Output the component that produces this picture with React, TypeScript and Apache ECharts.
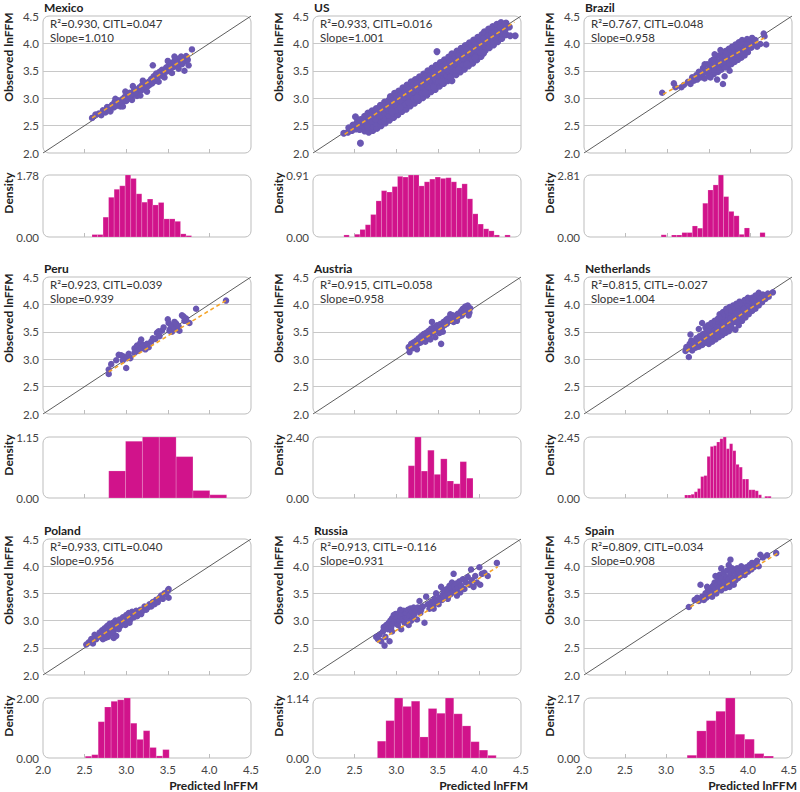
import React, { useEffect, useRef } from "react";
import * as echarts from "echarts";

// ---------- data ----------
const countries = ["Mexico", "US", "Brazil", "Peru", "Austria", "Netherlands", "Poland", "Russia", "Spain"];
const r2 = ["0.930", "0.933", "0.767", "0.923", "0.915", "0.815", "0.933", "0.913", "0.809"];
const citl = ["0.047", "0.016", "0.048", "0.039", "0.058", "-0.027", "0.040", "-0.116", "0.034"];
const slopes = ["1.010", "1.001", "0.958", "0.939", "0.958", "1.004", "0.956", "0.931", "0.908"];
const axisTicks = [2.0, 2.5, 3.0, 3.5, 4.0, 4.5];
const histMax = [1.78, 0.91, 2.81, 1.15, 2.4, 2.45, 2.0, 1.14, 2.17];
const histStart = [2.589, 2.371, 2.927, 2.79, 3.145, 3.21, 2.508, 2.774, 3.258];
const histWidth = [0.0665, 0.0645, 0.0625, 0.2025, 0.0778, 0.0385, 0.0776, 0.102, 0.117];
const dotSize = [6.5, 7, 6.5, 6.5, 6.5, 6.5, 6.5, 6.5, 6.5];

const mexicoHist = [0.07, 0.07, 0.57, 1.14, 1.37, 1.47, 1.78, 1.68, 1.24, 1.0, 1.09, 0.92, 0.99, 0.52, 0.52, 0.45, 0.09, 0.04];
const usHist = [0.03, 0, 0.04, 0.11, 0.18, 0.33, 0.53, 0.68, 0.66, 0.74, 0.89, 0.88, 0.91, 0.91, 0.75, 0.81, 0.85, 0.88, 0.86, 0.87, 0.81, 0.72, 0.78, 0.56, 0.34, 0.19, 0.12, 0.09, 0.03, 0, 0.03];
const brazilHist = [0.1, 0, 0.09, 0.09, 0.2, 0.2, 0.5, 0.4, 1.53, 2.13, 2.36, 2.81, 1.83, 1.16, 0.96, 0.12, 0.41, 0, 0, 0.2];
const peruHist = [0.51, 1.07, 1.15, 1.15, 0.78, 0.14, 0.06];
const austriaHist = [1.27, 2.4, 1.06, 1.88, 0.93, 1.54, 0.67, 0.56, 1.43, 0.78];
const netherlandsHist = [0.12, 0.12, 0.15, 0.25, 0.38, 0.86, 0.9, 1.67, 2.07, 2.1, 2.25, 2.38, 2.45, 1.98, 2.18, 1.9, 1.35, 1.24, 0.76, 0.76, 0.33, 0.33, 0.29, 0.13, 0, 0.07, 0.07];
const polandHist = [0.06, 0.11, 1.21, 1.7, 1.89, 1.94, 2.0, 1.16, 0.62, 0.91, 0.35, 0.07, 0.28];
const russiaHist = [0.32, 0.71, 1.14, 0.98, 1.08, 0.4, 0.94, 0.85, 1.14, 0.84, 0.61, 0.31, 0.15, 0.05];
const spainHist = [0.1, 0.98, 1.35, 1.69, 2.17, 0.86, 0.68, 0.16, 0.07];

const mexicoFit = [[2.59, 2.64], [3.8, 3.82]];
const usFit = [[2.38, 2.34], [4.42, 4.39]];
const brazilFit = [[2.95, 3.07], [4.19, 4.12]];
const peruFit = [[2.79, 2.77], [4.22, 4.09]];
const austriaFit = [[3.15, 3.2], [3.93, 3.93]];
const netherlandsFit = [[3.23, 3.15], [4.25, 4.18]];
const polandFit = [[2.52, 2.54], [3.51, 3.56]];
const russiaFit = [[2.77, 2.6], [4.22, 3.99]];
const spainFit = [[3.28, 3.25], [4.33, 4.24]];

const mexicoPoints = [[2.59,2.64],[2.63,2.7],[2.67,2.72],[2.7,2.69],[2.72,2.78],[2.75,2.74],[2.77,2.84],[2.79,2.8],[2.81,2.76],[2.83,2.88],[2.85,2.83],[2.86,2.93],[2.88,2.86],[2.9,2.96],[2.91,2.9],[2.93,2.85],[2.95,2.98],[2.96,2.93],[2.98,3.02],[3.0,2.95],[3.01,3.06],[3.03,2.99],[3.04,3.1],[3.06,3.03],[3.07,2.97],[3.09,3.13],[3.1,3.07],[3.12,3.16],[3.13,3.04],[3.15,3.1],[3.16,3.2],[3.18,3.14],[3.19,3.24],[3.21,3.17],[3.22,3.28],[3.24,3.2],[3.25,3.12],[3.27,3.3],[3.28,3.24],[3.3,3.35],[3.31,3.27],[3.33,3.4],[3.34,3.31],[3.36,3.45],[3.37,3.36],[3.39,3.3],[3.4,3.48],[3.42,3.41],[3.43,3.52],[3.45,3.44],[3.46,3.38],[3.48,3.56],[3.49,3.49],[3.51,3.6],[3.52,3.52],[3.54,3.64],[3.55,3.46],[3.57,3.57],[3.58,3.68],[3.6,3.61],[3.61,3.72],[3.63,3.54],[3.64,3.66],[3.66,3.76],[3.67,3.62],[3.69,3.72],[3.7,3.5],[3.71,3.67],[3.72,3.77],[3.74,3.7],[3.75,3.6],[3.32,3.6],[3.79,3.89],[3.2,3.32],[2.99,3.12],[2.87,2.99],[3.08,3.22],[3.5,3.68],[3.58,3.76],[2.96,2.85],[3.17,3.05],[3.11,3.1],[3.26,3.22],[3.35,3.36],[3.44,3.46],[3.53,3.56],[3.62,3.64],[3.68,3.66],[3.73,3.74],[2.8,2.84],[2.92,2.94],[3.05,3.05]];

const usPoints = [[2.37,2.36],[2.42,2.38],[2.43,2.46],[2.47,2.41],[2.48,2.51],[2.52,2.44],[2.53,2.56],[2.51,2.66],[2.57,2.18],[2.56,2.43],[2.58,2.51],[2.57,2.61],[2.62,2.4],[2.61,2.48],[2.63,2.57],[2.62,2.67],[2.67,2.38],[2.66,2.47],[2.68,2.55],[2.67,2.64],[2.66,2.73],[2.72,2.41],[2.71,2.5],[2.73,2.59],[2.72,2.68],[2.71,2.77],[2.77,2.45],[2.76,2.54],[2.78,2.63],[2.77,2.71],[2.76,2.81],[2.82,2.5],[2.81,2.59],[2.83,2.67],[2.82,2.76],[2.81,2.87],[2.87,2.55],[2.86,2.64],[2.88,2.72],[2.87,2.82],[2.86,2.93],[2.92,2.6],[2.91,2.69],[2.93,2.77],[2.92,2.86],[2.91,2.96],[2.93,3.03],[2.97,2.65],[2.96,2.73],[2.98,2.82],[2.97,2.91],[2.96,3.0],[2.98,3.09],[3.02,2.7],[3.01,2.79],[3.03,2.88],[3.02,2.96],[3.01,3.05],[3.03,3.13],[3.07,2.76],[3.06,2.84],[3.08,2.93],[3.07,3.01],[3.06,3.1],[3.08,3.19],[3.12,2.8],[3.11,2.89],[3.13,2.98],[3.12,3.06],[3.11,3.15],[3.13,3.24],[3.17,2.86],[3.16,2.94],[3.18,3.03],[3.17,3.11],[3.16,3.2],[3.18,3.3],[3.22,2.91],[3.21,2.99],[3.23,3.08],[3.22,3.16],[3.21,3.25],[3.23,3.34],[3.27,2.96],[3.26,3.05],[3.28,3.13],[3.27,3.22],[3.26,3.3],[3.28,3.39],[3.32,3.01],[3.31,3.1],[3.33,3.18],[3.32,3.27],[3.31,3.36],[3.33,3.44],[3.37,3.06],[3.36,3.15],[3.38,3.23],[3.37,3.32],[3.36,3.41],[3.38,3.5],[3.42,3.12],[3.41,3.2],[3.43,3.29],[3.42,3.37],[3.41,3.46],[3.43,3.55],[3.47,3.16],[3.46,3.25],[3.48,3.34],[3.47,3.42],[3.46,3.51],[3.48,3.6],[3.49,3.85],[3.52,3.22],[3.51,3.3],[3.53,3.39],[3.52,3.47],[3.51,3.56],[3.53,3.65],[3.57,3.27],[3.56,3.35],[3.58,3.44],[3.57,3.52],[3.56,3.61],[3.58,3.7],[3.62,3.32],[3.61,3.41],[3.63,3.49],[3.62,3.58],[3.61,3.66],[3.63,3.75],[3.67,3.32],[3.66,3.4],[3.68,3.47],[3.67,3.55],[3.66,3.63],[3.68,3.72],[3.67,3.81],[3.72,3.43],[3.71,3.51],[3.73,3.6],[3.72,3.68],[3.71,3.77],[3.73,3.86],[3.77,3.48],[3.76,3.56],[3.78,3.65],[3.77,3.73],[3.76,3.82],[3.78,3.91],[3.82,3.53],[3.81,3.61],[3.83,3.7],[3.82,3.78],[3.81,3.87],[3.83,3.96],[3.87,3.59],[3.86,3.67],[3.88,3.75],[3.87,3.84],[3.86,3.93],[3.88,4.01],[3.92,3.64],[3.91,3.72],[3.93,3.8],[3.92,3.89],[3.91,3.98],[3.93,4.06],[3.97,3.7],[3.96,3.78],[3.98,3.86],[3.97,3.94],[3.96,4.03],[3.98,4.11],[4.02,3.76],[4.01,3.84],[4.03,3.92],[4.02,4.0],[4.01,4.08],[4.03,4.16],[4.07,3.87],[4.06,3.95],[4.08,4.05],[4.07,4.13],[4.06,4.21],[4.12,3.92],[4.11,4.0],[4.13,4.1],[4.12,4.18],[4.11,4.26],[4.17,3.97],[4.16,4.05],[4.18,4.15],[4.17,4.23],[4.16,4.31],[4.22,4.03],[4.21,4.12],[4.23,4.2],[4.22,4.28],[4.21,4.35],[4.27,4.09],[4.26,4.19],[4.28,4.26],[4.27,4.33],[4.26,4.38],[4.32,4.16],[4.31,4.25],[4.33,4.31],[4.32,4.37],[4.37,4.14],[4.36,4.3],[4.43,4.14],
[2.45,2.43],[2.5,2.5],[2.55,2.52],[2.6,2.56],[2.65,2.51],[2.7,2.58],[2.75,2.62],[2.8,2.68],[2.85,2.74],[2.9,2.79],[2.95,2.84],[3.0,2.9],[3.05,2.96],[3.1,3.02],[3.15,3.06],[3.2,3.12],[3.25,3.17],[3.3,3.22],[3.35,3.28],[3.4,3.33],[3.45,3.38],[3.5,3.43],[3.55,3.48],[3.6,3.53],[3.65,3.59],[3.7,3.64],[3.75,3.69],[3.8,3.74],[3.85,3.8],[3.9,3.85],[3.95,3.9],[4.0,3.96],[4.05,4.01],[4.1,4.06],[4.15,4.11],[4.2,4.16],[4.25,4.22],[4.3,4.28],
[2.7,2.68],[2.8,2.78],[2.9,2.88],[3.0,2.99],[3.1,3.1],[3.2,3.2],[3.3,3.31],[3.4,3.41],[3.5,3.52],[3.6,3.62],[3.7,3.72],[3.8,3.82],[3.9,3.93],[4.0,4.03],[4.1,4.13],[4.2,4.23],[4.3,4.34],
[2.75,2.76],[2.85,2.86],[2.95,2.95],[3.05,3.06],[3.15,3.15],[3.25,3.26],[3.35,3.36],[3.45,3.47],[3.55,3.57],[3.65,3.67],[3.75,3.78],[3.85,3.88],[3.95,3.98],[4.05,4.08],[4.15,4.18],[4.25,4.3],
[2.95,2.76],[3.05,2.83],[3.15,2.92],[3.25,3.01],[3.35,3.1],[3.45,3.2],[3.55,3.3],[3.65,3.38],[3.75,3.52],[3.85,3.62],[3.95,3.74],[4.05,3.82]];

const brazilPoints = [[2.94,3.1],[3.08,3.27],[3.1,3.2],[3.17,3.2],[3.2,3.24],[3.25,3.3],[3.28,3.26],[3.3,3.38],[3.32,3.32],[3.35,3.42],[3.36,3.34],[3.38,3.48],[3.4,3.38],[3.42,3.44],[3.43,3.55],[3.45,3.36],[3.46,3.5],[3.48,3.62],[3.49,3.45],[3.5,3.4],[3.51,3.56],[3.53,3.68],[3.54,3.5],[3.55,3.6],[3.56,3.44],[3.58,3.72],[3.59,3.55],[3.6,3.64],[3.61,3.48],[3.62,3.78],[3.63,3.58],[3.64,3.68],[3.65,3.52],[3.66,3.82],[3.67,3.26],[3.67,3.62],[3.68,3.72],[3.69,3.4],[3.7,3.86],[3.71,3.66],[3.72,3.76],[3.73,3.58],[3.74,3.9],[3.75,3.7],[3.76,3.8],[3.77,3.62],[3.78,3.94],[3.79,3.74],[3.8,3.84],[3.81,3.66],[3.82,3.98],[3.83,3.78],[3.84,3.88],[3.85,3.7],[3.86,4.02],[3.87,3.82],[3.88,3.92],[3.89,3.74],[3.9,4.06],[3.91,3.86],[3.92,3.96],[3.93,3.78],[3.94,4.0],[3.95,3.9],[3.96,4.08],[3.97,3.84],[3.98,3.96],[4.0,4.04],[4.01,3.92],[4.02,4.1],[4.04,3.98],[4.06,4.06],[4.08,3.94],[4.12,3.99],[4.16,4.18],[4.19,3.98],[4.17,4.13],[3.57,3.8],[3.64,3.88],[3.52,3.38],[3.6,3.34],[3.75,3.5],
[3.45,3.62],[3.5,3.6],[3.55,3.7],[3.58,3.62],[3.62,3.66],[3.66,3.74],[3.7,3.76],[3.72,3.84],[3.76,3.88],[3.8,3.92],[3.84,3.94],[3.86,3.86],[3.9,3.98],[3.94,3.92],[3.98,4.02],[3.7,3.56],[3.74,3.64],[3.78,3.7],[3.82,3.76],[3.86,3.78],[3.9,3.82],[3.62,3.52],[3.56,3.52],[3.5,3.5],[3.44,3.46],[3.68,3.66],[3.8,3.8],[3.92,3.9],[4.0,3.96],[3.96,3.98]];

const peruPoints = [[2.79,2.73],[2.79,2.81],[2.82,2.91],[2.88,2.98],[2.91,3.08],[2.94,3.07],[2.97,3.05],[3.0,2.84],[3.01,3.02],[3.03,3.1],[3.05,3.02],[3.1,3.2],[3.13,3.25],[3.14,3.15],[3.17,3.3],[3.18,3.36],[3.19,3.2],[3.21,3.26],[3.23,3.18],[3.25,3.28],[3.27,3.22],[3.3,3.32],[3.32,3.38],[3.35,3.37],[3.37,3.48],[3.39,3.51],[3.43,3.52],[3.45,3.58],[3.5,3.73],[3.51,3.66],[3.52,3.52],[3.53,3.56],[3.55,3.5],[3.56,3.62],[3.58,3.55],[3.6,3.65],[3.62,3.56],[3.63,3.6],[3.64,3.52],[3.67,3.8],[3.69,3.78],[3.7,3.7],[3.72,3.74],[3.76,3.66],[3.84,3.92],[4.2,4.07],[3.1,3.12],[2.96,2.98],[3.4,3.42],[3.58,3.68]];

const austriaPoints = [[3.15,3.22],[3.16,3.13],[3.18,3.28],[3.2,3.2],[3.21,3.31],[3.23,3.25],[3.24,3.34],[3.26,3.28],[3.27,3.38],[3.29,3.3],[3.3,3.42],[3.31,3.35],[3.33,3.46],[3.34,3.38],[3.35,3.32],[3.36,3.48],[3.37,3.4],[3.39,3.52],[3.4,3.44],[3.42,3.56],[3.43,3.68],[3.44,3.47],[3.45,3.58],[3.47,3.4],[3.48,3.52],[3.49,3.62],[3.5,3.55],[3.52,3.48],[3.53,3.64],[3.54,3.28],[3.55,3.58],[3.57,3.68],[3.58,3.62],[3.6,3.72],[3.61,3.65],[3.62,3.74],[3.64,3.7],[3.65,3.82],[3.66,3.72],[3.68,3.8],[3.69,3.68],[3.71,3.75],[3.73,3.7],[3.74,3.83],[3.76,3.78],[3.78,3.88],[3.79,3.8],[3.8,3.92],[3.82,3.86],[3.83,3.96],[3.85,3.9],[3.86,3.98],[3.88,3.85],[3.89,3.93],[3.87,3.8],[3.46,3.5],[3.41,3.36],[3.25,3.18],[3.28,3.34],[3.56,3.5]];

const netherlandsPoints = [[3.22,3.15],[3.23,3.22],[3.26,3.04],[3.25,3.19],[3.27,3.28],[3.28,3.45],[3.3,3.16],[3.31,3.25],[3.29,3.34],[3.34,3.21],[3.33,3.3],[3.35,3.38],[3.38,3.23],[3.37,3.32],[3.39,3.42],[3.38,3.55],[3.42,3.26],[3.41,3.36],[3.43,3.46],[3.42,3.66],[3.46,3.3],[3.45,3.4],[3.47,3.5],[3.46,3.58],[3.5,3.28],[3.49,3.37],[3.51,3.45],[3.5,3.54],[3.49,3.62],[3.54,3.32],[3.53,3.41],[3.55,3.49],[3.54,3.58],[3.53,3.66],[3.58,3.36],[3.57,3.45],[3.59,3.53],[3.58,3.62],[3.57,3.7],[3.62,3.4],[3.61,3.49],[3.63,3.57],[3.62,3.66],[3.61,3.74],[3.63,3.82],[3.66,3.44],[3.65,3.53],[3.67,3.61],[3.66,3.7],[3.65,3.78],[3.67,3.86],[3.7,3.48],[3.69,3.57],[3.71,3.65],[3.7,3.74],[3.69,3.82],[3.71,3.92],[3.74,3.51],[3.73,3.6],[3.75,3.69],[3.74,3.78],[3.73,3.86],[3.75,3.95],[3.78,3.56],[3.77,3.64],[3.79,3.73],[3.78,3.82],[3.77,3.9],[3.79,3.98],[3.82,3.54],[3.81,3.68],[3.83,3.77],[3.82,3.86],[3.81,3.94],[3.83,4.01],[3.86,3.62],[3.85,3.72],[3.87,3.81],[3.86,3.9],[3.85,3.98],[3.87,4.05],[3.9,3.7],[3.89,3.78],[3.91,3.86],[3.9,3.94],[3.89,4.02],[3.94,3.76],[3.93,3.84],[3.95,3.92],[3.94,4.0],[3.93,4.08],[3.98,3.82],[3.97,3.9],[3.99,3.98],[3.98,4.06],[3.97,4.12],[4.02,3.88],[4.01,3.96],[4.03,4.04],[4.02,4.12],[4.06,3.92],[4.05,4.0],[4.07,4.08],[4.06,4.16],[4.1,3.98],[4.09,4.06],[4.11,4.14],[4.1,4.21],[4.14,4.04],[4.13,4.12],[4.15,4.18],[4.18,4.1],[4.17,4.16],[4.22,4.14],[4.21,4.2],[4.27,4.22],
[3.36,3.27],[3.44,3.33],[3.52,3.37],[3.6,3.44],[3.68,3.52],[3.76,3.6],[3.84,3.68],[3.92,3.8],[4.0,3.92],[4.08,4.02],[3.48,3.42],[3.56,3.52],[3.64,3.6],[3.72,3.7],[3.8,3.78],[3.88,3.86],[3.96,3.96],[4.04,4.08],[4.12,4.1],[3.6,3.58],[3.68,3.66],[3.76,3.74],[3.84,3.84],[3.92,3.92]];

const polandPoints = [[2.52,2.56],[2.55,2.6],[2.58,2.66],[2.6,2.58],[2.62,2.74],[2.64,2.66],[2.66,2.7],[2.68,2.78],[2.7,2.72],[2.71,2.82],[2.73,2.75],[2.74,2.86],[2.76,2.8],[2.77,2.9],[2.78,2.7],[2.79,2.84],[2.8,2.94],[2.81,2.76],[2.82,2.88],[2.84,2.96],[2.85,2.68],[2.85,2.82],[2.86,2.92],[2.87,3.0],[2.88,2.72],[2.89,2.86],[2.9,2.96],[2.92,3.02],[2.93,2.9],[2.94,2.98],[2.96,3.06],[2.97,2.94],[2.98,3.02],[3.0,3.1],[3.01,2.98],[3.02,3.06],[3.03,3.14],[3.05,3.02],[3.06,3.1],[3.07,3.16],[3.09,3.06],[3.1,3.12],[3.12,3.18],[3.13,3.08],[3.15,3.14],[3.17,3.2],[3.18,3.12],[3.2,3.18],[3.22,3.26],[3.24,3.2],[3.26,3.24],[3.28,3.3],[3.3,3.26],[3.32,3.34],[3.34,3.3],[3.36,3.38],[3.38,3.34],[3.4,3.42],[3.42,3.46],[3.44,3.4],[3.46,3.5],[3.48,3.48],[3.5,3.55],[3.51,3.58],[3.51,3.42],[2.75,2.68],[2.83,2.78],[2.91,2.84],[2.99,2.92],[3.04,2.96],[2.72,2.66]];

const russiaPoints = [[2.76,2.7],[2.78,2.66],[2.8,2.74],[2.82,2.62],[2.84,2.8],[2.85,2.88],[2.86,2.54],[2.87,2.7],[2.88,2.92],[2.9,2.84],[2.91,2.96],[2.92,2.62],[2.93,3.0],[2.94,2.88],[2.95,3.04],[2.96,2.94],[2.97,3.1],[2.98,2.98],[2.99,3.12],[3.0,3.02],[3.01,3.06],[3.02,2.92],[3.03,3.14],[3.04,3.0],[3.05,3.08],[3.06,2.84],[3.07,3.12],[3.08,3.02],[3.09,3.18],[3.1,2.96],[3.11,3.08],[3.12,3.14],[3.13,3.04],[3.14,3.2],[3.15,2.92],[3.16,3.1],[3.17,3.22],[3.18,3.0],[3.19,3.16],[3.2,3.06],[3.21,3.24],[3.22,3.12],[3.24,3.18],[3.25,3.02],[3.26,3.24],[3.28,3.36],[3.29,3.14],[3.3,3.2],[3.32,3.26],[3.34,2.96],[3.38,3.3],[3.4,3.22],[3.42,3.34],[3.44,3.28],[3.46,3.4],[3.47,3.32],[3.48,3.5],[3.5,3.36],[3.51,3.3],[3.52,3.42],[3.54,3.62],[3.55,3.38],[3.56,3.48],[3.57,3.56],[3.58,3.42],[3.59,3.52],[3.6,3.46],[3.61,3.58],[3.62,3.4],[3.63,3.54],[3.64,3.64],[3.65,3.48],[3.66,3.6],[3.67,3.7],[3.68,3.52],[3.69,3.86],[3.7,3.62],[3.71,3.56],[3.72,3.68],[3.73,3.46],[3.74,3.6],[3.76,3.72],[3.77,3.52],[3.78,3.64],[3.8,3.76],[3.82,3.58],[3.84,3.7],[3.86,3.8],[3.88,3.66],[3.9,3.94],[3.91,3.74],[3.93,3.62],[3.95,3.82],[3.97,3.7],[4.0,3.98],[4.01,3.66],[4.03,3.86],[4.06,3.88],[4.1,3.82],[4.21,4.06],[3.36,3.44],[3.45,3.22],[3.05,3.2],[2.95,2.8]];

const spainPoints = [[3.26,3.25],[3.33,3.38],[3.36,3.42],[3.38,3.36],[3.4,3.66],[3.42,3.44],[3.44,3.38],[3.46,3.5],[3.47,3.42],[3.49,3.56],[3.5,3.46],[3.52,3.52],[3.53,3.6],[3.54,3.44],[3.55,3.64],[3.56,3.54],[3.57,3.7],[3.58,3.58],[3.59,3.5],[3.6,3.66],[3.61,3.76],[3.62,3.6],[3.63,3.84],[3.64,3.7],[3.65,3.56],[3.66,3.78],[3.67,3.64],[3.68,3.88],[3.69,3.72],[3.7,3.6],[3.71,3.8],[3.72,3.92],[3.73,3.68],[3.74,3.76],[3.75,3.62],[3.76,4.12],[3.76,3.86],[3.77,3.7],[3.78,3.96],[3.79,3.78],[3.8,3.66],[3.81,3.9],[3.82,3.74],[3.83,3.84],[3.84,3.96],[3.85,3.78],[3.86,3.9],[3.88,3.82],[3.89,4.0],[3.9,3.88],[3.92,3.94],[3.93,3.84],[3.95,3.98],[3.97,3.9],[3.99,4.02],[4.01,3.94],[4.02,4.06],[4.04,3.98],[4.05,4.04],[4.08,4.1],[4.1,4.0],[4.12,4.21],[4.15,4.16],[4.2,4.2],[4.31,4.24],[3.48,3.62],[3.58,3.82],[3.65,3.96],[3.74,4.02]];

const allPoints = [mexicoPoints, usPoints, brazilPoints, peruPoints, austriaPoints, netherlandsPoints, polandPoints, russiaPoints, spainPoints];
const allHist = [mexicoHist, usHist, brazilHist, peruHist, austriaHist, netherlandsHist, polandHist, russiaHist, spainHist];
const allFit = [mexicoFit, usFit, brazilFit, peruFit, austriaFit, netherlandsFit, polandFit, russiaFit, spainFit];

// ---------- layout ----------
const GRID_LEFT = [43, 313, 584];
const GRID_W = 208;
const SC_TOP = [16, 277, 539];
const SC_H = [137, 137, 136];
const HI_TOP = [175, 437, 698];
const HI_H = [62, 61, 60];

const FONT = "Lato";
const PURPLE = "#6a57b2";
const MAGENTA = "#d1138b";
const ORANGE = "#f5a52a";
const BORDER = "#bdbdbd";
const TEXT = "#444";
const TICK_FS = 11.5;

function buildOption() {
  const grid: any[] = [];
  const xAxis: any[] = [];
  const yAxis: any[] = [];
  const series: any[] = [];
  const graphic: any[] = [];

  countries.forEach((name, i) => {
    const row = Math.floor(i / 3);
    const col = i % 3;
    const left = GRID_LEFT[col];
    const sTop = SC_TOP[row];
    const hTop = HI_TOP[row];
    const gs = 2 * i;
    const gh = 2 * i + 1;

    grid.push({ left, top: sTop, width: GRID_W, height: SC_H[row] });
    grid.push({ left, top: hTop, width: GRID_W, height: HI_H[row] });

    const baseX = {
      type: "value",
      min: 2,
      max: 4.5,
      interval: 0.5,
      axisLine: { show: false },
      axisTick: { show: true, inside: true, length: 4, lineStyle: { color: BORDER }, customValues: [2.5, 3, 3.5, 4] },
      splitLine: { show: false },
    };
    xAxis.push({ ...baseX, gridIndex: gs, axisLabel: { show: false } });
    xAxis.push({
      ...baseX,
      gridIndex: gh,
      axisLabel: {
        show: row === 2,
        formatter: (v: number) => v.toFixed(1),
        color: TEXT,
        fontSize: TICK_FS,
        fontFamily: FONT,
        margin: 5,
        customValues: axisTicks,
      },
    });

    yAxis.push({
      gridIndex: gs,
      type: "value",
      min: 2,
      max: 4.5,
      interval: 0.5,
      axisLine: { show: false },
      axisTick: { show: false },
      axisLabel: { formatter: (v: number) => v.toFixed(1), color: TEXT, fontSize: TICK_FS, fontFamily: FONT, margin: 4 },
      splitLine: { show: true, showMinLine: false, showMaxLine: false, lineStyle: { color: "#c8c8c8", width: 1 } },
    });
    yAxis.push({
      gridIndex: gh,
      type: "value",
      min: 0,
      max: histMax[i],
      interval: histMax[i],
      axisLine: { show: false },
      axisTick: { show: false },
      axisLabel: {
        formatter: (v: number) => v.toFixed(2),
        color: TEXT,
        fontSize: TICK_FS,
        fontFamily: FONT,
        margin: 4,
        customValues: [0, histMax[i]],
      },
      splitLine: { show: false },
    });

    series.push({
      type: "line",
      xAxisIndex: gs,
      yAxisIndex: gs,
      data: [[2, 2], [4.5, 4.5]],
      symbol: "none",
      silent: true,
      lineStyle: { color: "#333", width: 0.8 },
      z: 1,
    });
    series.push({
      type: "scatter",
      xAxisIndex: gs,
      yAxisIndex: gs,
      data: allPoints[i],
      symbolSize: dotSize[i],
      itemStyle: { color: PURPLE, opacity: 1 },
      silent: true,
      z: 2,
    });
    series.push({
      type: "line",
      xAxisIndex: gs,
      yAxisIndex: gs,
      data: allFit[i],
      symbol: "none",
      silent: true,
      lineStyle: { color: ORANGE, width: 1.6, type: [4, 3] },
      z: 3,
    });
    const bins = allHist[i].map((d, k) => [
      histStart[i] + k * histWidth[i],
      histStart[i] + (k + 1) * histWidth[i],
      d,
    ]);
    series.push({
      type: "custom",
      xAxisIndex: gh,
      yAxisIndex: gh,
      data: bins,
      encode: { x: [0, 1], y: 2 },
      silent: true,
      renderItem: (params: any, api: any) => {
        const h = api.value(2);
        if (!h) return null;
        const p0 = api.coord([api.value(0), h]);
        const p1 = api.coord([api.value(1), 0]);
        return {
          type: "rect",
          shape: { x: p0[0], y: p0[1], width: p1[0] - p0[0], height: p1[1] - p0[1] },
          style: { fill: MAGENTA, stroke: "rgba(255,255,255,0.35)", lineWidth: 0.5 },
        };
      },
      z: 2,
    });

    graphic.push({
      type: "rect",
      silent: true,
      z: 0,
      shape: { x: left, y: sTop, width: GRID_W, height: SC_H[row], r: 6 },
      style: { fill: "none", stroke: BORDER, lineWidth: 1 },
    });
    graphic.push({
      type: "rect",
      silent: true,
      z: 0,
      shape: { x: left, y: hTop, width: GRID_W, height: HI_H[row], r: 6 },
      style: { fill: "none", stroke: BORDER, lineWidth: 1 },
    });

    graphic.push({
      type: "text",
      x: left + 1,
      y: sTop - 9,
      silent: true,
      style: { text: name, font: `bold 12px ${FONT}`, fill: "#222", align: "left", verticalAlign: "middle" },
    });
    graphic.push({
      type: "text",
      x: left + 7,
      y: sTop + 7,
      silent: true,
      style: { text: `R²=${r2[i]}, CITL=${citl[i]}`, font: `11.5px ${FONT}`, fill: "#333", align: "left", verticalAlign: "middle" },
    });
    graphic.push({
      type: "text",
      x: left + 7,
      y: sTop + 21,
      silent: true,
      style: { text: `Slope=${slopes[i]}`, font: `11.5px ${FONT}`, fill: "#333", align: "left", verticalAlign: "middle" },
    });
    graphic.push({
      type: "text",
      x: left - 35,
      y: sTop + 41,
      rotation: Math.PI / 2,
      silent: true,
      style: { text: "Observed lnFFM", font: `bold 12px ${FONT}`, fill: "#222", align: "center", verticalAlign: "middle" },
    });
    graphic.push({
      type: "text",
      x: left - 35,
      y: hTop + 18,
      rotation: Math.PI / 2,
      silent: true,
      style: { text: "Density", font: `bold 12px ${FONT}`, fill: "#222", align: "center", verticalAlign: "middle" },
    });
    if (row === 2) {
      graphic.push({
        type: "text",
        x: Math.min(left + GRID_W + 7, 797),
        y: 785,
        silent: true,
        style: { text: "Predicted lnFFM", font: `bold 12px ${FONT}`, fill: "#222", align: "right", verticalAlign: "middle" },
      });
    }
  });

  return {
    animation: false,
    backgroundColor: "#fff",
    textStyle: { fontFamily: FONT },
    grid,
    xAxis,
    yAxis,
    series,
    graphic,
  };
}

export default function App() {
  const ref = useRef<HTMLDivElement>(null);
  useEffect(() => {
    const chart = echarts.init(ref.current as HTMLDivElement, null, { renderer: "svg" });
    chart.setOption(buildOption() as any);
    return () => chart.dispose();
  }, []);
  return <div ref={ref} style={{ position: "absolute", left: 0, top: 0, width: 800, height: 792 }} />;
}
